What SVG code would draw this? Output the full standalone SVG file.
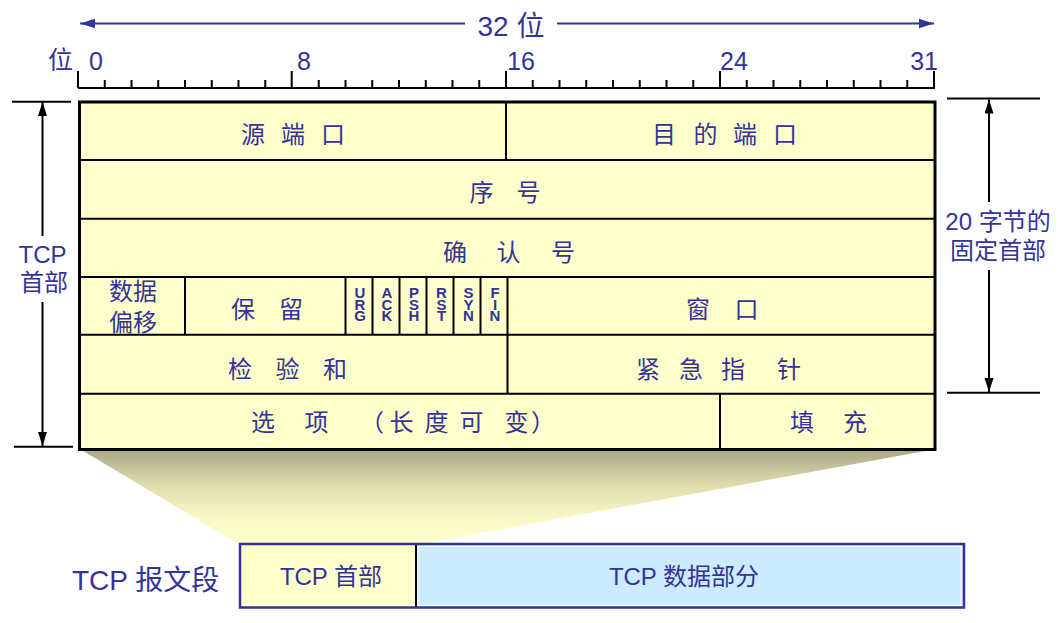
<svg xmlns="http://www.w3.org/2000/svg" width="1062" height="623" viewBox="0 0 1062 623">
<style>
.t{font-family:"Liberation Sans","Noto Sans CJK SC",sans-serif;fill:#333399}
.c{font-size:24px;text-anchor:middle}
.f{font-family:"Liberation Sans",sans-serif;font-weight:bold;font-size:15px;fill:#333399;writing-mode:vertical-rl;text-orientation:upright;letter-spacing:-5.3px}
.blk{stroke:#000;stroke-width:2;fill:none}
.blue{stroke:#333399;stroke-width:2;fill:none}
</style>
<defs>
<marker id="ab" markerUnits="userSpaceOnUse" markerWidth="16" markerHeight="10" refX="15" refY="4.7" orient="auto-start-reverse"><path d="M0,0 L15,4.7 L0,9.4 z" fill="#333399"/></marker>
<marker id="ak" markerUnits="userSpaceOnUse" markerWidth="15" markerHeight="10" refX="14" refY="4.5" orient="auto-start-reverse"><path d="M0,0 L14,4.5 L0,9 z" fill="#000"/></marker>
<linearGradient id="shade" x1="0" y1="449" x2="0" y2="545" gradientUnits="userSpaceOnUse">
<stop offset="0" stop-color="#a8a685"/>
<stop offset="0.35" stop-color="#dcdaab"/>
<stop offset="0.7" stop-color="#f8f7c6"/>
<stop offset="1" stop-color="#ffffcc"/>
</linearGradient>
</defs>
<rect width="1062" height="623" fill="#fff"/>

<g id="shade-trapezoid"><polygon points="80,449 936,449 416,545 240,545" fill="url(#shade)"/></g>

<g id="ruler">
<path class="blk" d="M78,88 H935 M78,71 V88 M291.7,71 V88 M506,71 V88 M720,71 V88 M934,71 V88
M104.75,80 V88 M131.5,80 V88 M158.25,80 V88 M185,80 V88 M211.75,80 V88 M238.5,80 V88 M265.25,80 V88
M318.75,80 V88 M345.5,80 V88 M372.25,80 V88 M399,80 V88 M425.75,80 V88 M452.5,80 V88 M479.25,80 V88
M532.75,80 V88 M559.5,80 V88 M586.25,80 V88 M613,80 V88 M639.75,80 V88 M666.5,80 V88 M693.25,80 V88
M746.75,80 V88 M773.5,80 V88 M800.25,80 V88 M827,80 V88 M853.75,80 V88 M880.5,80 V88 M907.25,80 V88"/>
<text class="t" x="48" y="69" font-size="25">位</text>
<text class="t" x="89" y="70" font-size="25">0</text>
<text class="t" x="297" y="70" font-size="25">8</text>
<text class="t" x="507" y="70" font-size="25">16</text>
<text class="t" x="720" y="70" font-size="25">24</text>
<text class="t" x="938" y="70" font-size="25" text-anchor="end">31</text>
</g>

<g id="connectors">
<line class="blue" x1="80" y1="23.5" x2="465" y2="23.5" marker-start="url(#ab)"/>
<line class="blue" x1="557" y1="23.5" x2="934" y2="23.5" marker-end="url(#ab)"/>
<path class="blk" d="M12,101.7 H71 M14,446.7 H73 M947,98.5 H1040 M947,392.7 H1040"/>
<line class="blk" x1="42.5" y1="102" x2="42.5" y2="236" marker-start="url(#ak)"/>
<line class="blk" x1="42.5" y1="302" x2="42.5" y2="446" marker-end="url(#ak)"/>
<line class="blk" x1="989" y1="99.5" x2="989" y2="202" marker-start="url(#ak)"/>
<line class="blk" x1="989" y1="270" x2="989" y2="392" marker-end="url(#ak)"/>
</g>
<g id="label-32bit"><text class="t" x="511" y="36" font-size="28" text-anchor="middle">32 位</text></g>
<g id="label-tcp-header"><text class="t c" x="42.5" y="263">TCP</text><text class="t c" x="44" y="291">首部</text></g>
<g id="label-20bytes"><text class="t c" x="998" y="230" font-size="25">20 字节的</text><text class="t c" x="998" y="259" font-size="25">固定首部</text></g>

<g id="header-table">
<rect x="79.5" y="102" width="855.5" height="347.5" fill="#FFFFCC"/>
<g id="src-port"><text class="t c" x="253 293 333" y="143">源端口</text></g>
<g id="dst-port"><text class="t c" x="664 705.5 745 785" y="143">目的端口</text></g>
<g id="seq"><text class="t c" x="481.5 528.5" y="201">序号</text></g>
<g id="ack"><text class="t c" x="455 508.5 563" y="261">确认号</text></g>
<g id="offset"><text class="t c" x="133" y="300">数据<tspan x="133" dy="31">偏移</tspan></text></g>
<g id="reserved"><text class="t c" x="243 291" y="318">保留</text></g>
<g id="flags">
<text class="f" x="360" y="284">URG</text>
<text class="f" x="387" y="284">ACK</text>
<text class="f" x="414" y="284">PSH</text>
<text class="f" x="441.5" y="284">RST</text>
<text class="f" x="468.5" y="284">SYN</text>
<text class="f" x="495" y="284">FIN</text>
</g>
<g id="window"><text class="t c" x="698 746.5" y="318">窗口</text></g>
<g id="checksum"><text class="t c" x="240 287.5 335" y="378">检验和</text></g>
<g id="urgent"><text class="t c" x="648 691 733 789" y="378">紧急指针</text></g>
<g id="options"><text class="t c" x="263 316.5 372 401.5 436.5 471.5 516.5 543" y="431">选项（长度可变）</text></g>
<g id="padding"><text class="t c" x="802 855" y="431">填充</text></g>
<path class="blk" d="M79.5,160 H935 M79.5,218.7 H935 M79.5,277 H935 M79.5,334.7 H935 M79.5,393.7 H935
M506,102 V160 M185,277 V334.7 M345.5,277 V334.7 M372.5,277 V334.7 M399.5,277 V334.7 M426.5,277 V334.7 M453.5,277 V334.7 M480.5,277 V334.7 M507.5,277 V393.7 M720,393.7 V449.5"/>
<rect x="79.5" y="102" width="855.5" height="347.5" fill="none" stroke="#000" stroke-width="3"/>
</g>

<g id="segment">
<text class="t" x="72" y="590" font-size="28">TCP 报文段</text>
<g id="seg-header"><rect x="240" y="544" width="176" height="63.5" fill="#FFFFCC"/><text class="t c" x="331" y="585">TCP 首部</text></g>
<g id="seg-data"><rect x="416" y="544" width="548" height="63.5" fill="#CCEBFF"/><rect x="418" y="546.5" width="543" height="59" fill="none" stroke="#fff" stroke-width="1"/><text class="t c" x="684" y="585" font-size="25">TCP 数据部分</text></g>
<line class="blk" x1="416" y1="544" x2="416" y2="607.5"/>
<rect x="240" y="544" width="724" height="63.5" fill="none" stroke="#333399" stroke-width="2.5"/>
</g>
</svg>
